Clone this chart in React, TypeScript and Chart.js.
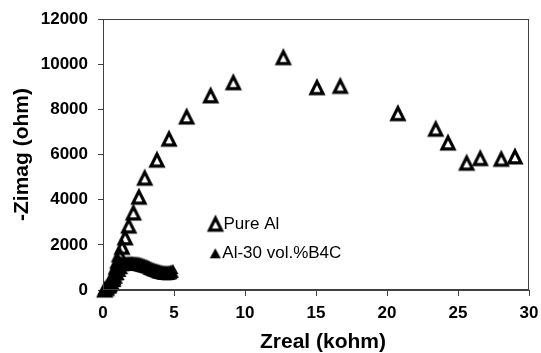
import React, { useEffect, useRef } from "react";
import { Chart, registerables } from "chart.js";

Chart.register(...registerables);

// ---- Data ----
const seriesNames = ["Pure Al", "Al-30 vol.%B4C"];

// Pure Al: Zreal (kohm), -Zimag (ohm)
const pureAlX = [0.12, 0.25, 0.4, 0.55, 0.7, 0.82, 0.93, 1.04, 1.16, 1.34, 1.56, 1.81, 2.14, 2.53, 2.94, 3.8, 4.65, 5.89, 7.58, 9.18, 12.7, 15.07, 16.71, 20.77, 23.43, 24.3, 25.61, 26.57, 28.05, 29.01];
const pureAlY = [40, 110, 220, 380, 580, 800, 1050, 1310, 1600, 1930, 2350, 2870, 3450, 4150, 4990, 5790, 6720, 7700, 8640, 9220, 10330, 9000, 9060, 7850, 7160, 6550, 5655, 5860, 5830, 5935];

// Al-30 vol.%B4C: Zreal (kohm), -Zimag (ohm)
const alB4cX = [0.0, 0.06, 0.12, 0.2, 0.27, 0.34, 0.41, 0.48, 0.55, 0.62, 0.69, 0.76, 0.83, 0.9, 0.96, 1.02, 1.08, 1.14,
  1.2, 1.26, 1.32, 1.38, 1.44, 1.5, 1.56, 1.62, 1.68, 1.74, 1.8, 1.86, 1.92, 1.98, 2.04, 2.1, 2.16, 2.22, 2.28, 2.34, 2.4, 2.46,
  2.52, 2.58, 2.64, 2.7, 2.76, 2.82, 2.88, 2.94, 3.0, 3.06, 3.12, 3.18, 3.24, 3.3, 3.36, 3.42, 3.48, 3.54, 3.6, 3.66, 3.72, 3.78,
  3.84, 3.9, 3.96, 4.02, 4.08, 4.14, 4.2, 4.26, 4.32, 4.38, 4.44, 4.5, 4.56, 4.62, 4.68, 4.74, 4.8, 4.86, 4.92, 4.96,
  0.3, 0.42, 0.53, 0.65, 0.78, 0.9, 1.02, 1.14, 1.26, 1.38];
const alB4cY = [0, 20, 50, 100, 160, 230, 310, 400, 490, 590, 690, 790, 890, 980, 1060, 1130, 1190, 1230,
  1290, 1070, 1280, 1060, 1270, 1050, 1270, 1060, 1280, 1070, 1290, 1075, 1295, 1075, 1290, 1070, 1285, 1065, 1280, 1060, 1270, 1050,
  1260, 1030, 1240, 1010, 1220, 990, 1190, 970, 1165, 945, 1140, 890, 1100, 860, 1060, 830, 1030, 800, 1000, 770, 975, 735,
  955, 715, 935, 700, 905, 680, 895, 665, 885, 660, 880, 655, 880, 660, 890, 670, 910, 700, 930, 760,
  0, 30, 70, 130, 220, 350, 500, 660, 800, 920];

const xTickValues = [0, 5, 10, 15, 20, 25, 30];
const yTickValues = [0, 2000, 4000, 6000, 8000, 10000, 12000];
const xTitle = "Zreal (kohm)";
const yTitle = "-Zimag (ohm)";

const FONT = '"Liberation Sans", Arial, Helvetica, sans-serif';

function makeHollowTriangle(): HTMLCanvasElement {
  const c = document.createElement("canvas");
  c.width = 22;
  c.height = 22;
  const g = c.getContext("2d")!;
  g.strokeStyle = "#000";
  g.lineWidth = 3.2;
  g.lineJoin = "miter";
  g.beginPath();
  g.moveTo(11, 5.9);
  g.lineTo(17, 17.9);
  g.lineTo(5, 17.9);
  g.closePath();
  g.stroke();
  return c;
}

function makeFilledTriangle(): HTMLCanvasElement {
  const c = document.createElement("canvas");
  c.width = 12;
  c.height = 12;
  const g = c.getContext("2d")!;
  g.fillStyle = "#000";
  g.beginPath();
  g.moveTo(6, 1);
  g.lineTo(11.5, 11);
  g.lineTo(0.5, 11);
  g.closePath();
  g.fill();
  return c;
}

export default function App() {
  const ref = useRef<HTMLCanvasElement | null>(null);

  useEffect(() => {
    if (!ref.current) return;
    const hollow = makeHollowTriangle();
    const filled = makeFilledTriangle();

    const framePlugin = {
      id: "frameAndLegend",
      afterDraw(chart: any) {
        const { ctx, chartArea: a } = chart;
        ctx.save();
        ctx.strokeStyle = "#404040";
        ctx.lineWidth = 1;
        ctx.strokeRect(
          Math.round(a.left) + 0.5,
          Math.round(a.top) + 0.5,
          Math.round(a.right - a.left) - 1,
          Math.round(a.bottom - a.top) - 1
        );
        // x axis title
        ctx.fillStyle = "#000";
        ctx.font = `bold 21px ${FONT}`;
        ctx.textAlign = "center";
        ctx.textBaseline = "middle";
        ctx.fillText(xTitle, 323, 342);
        // in-plot legend
        const items = [
          { img: hollow, mx: 215.5, my: 223.3, tx: 223.5, ty: 224, text: seriesNames[0] },
          { img: filled, mx: 215.3, my: 253.3, tx: 222.3, ty: 253.5, text: seriesNames[1] },
        ];
        ctx.font = `17px ${FONT}`;
        ctx.textAlign = "left";
        for (const it of items) {
          ctx.drawImage(it.img, it.mx - it.img.width / 2, it.my - it.img.height / 2);
          ctx.fillText(it.text, it.tx, it.ty);
        }
        ctx.restore();
      },
    };

    const chart = new Chart(ref.current, {
      type: "scatter",
      data: {
        datasets: [
          {
            label: seriesNames[0],
            data: pureAlX.map((x, i) => ({ x, y: pureAlY[i] })),
            pointStyle: hollow as any,
            pointRadius: 8,
            showLine: false,
            clip: false as any,
          },
          {
            label: seriesNames[1],
            data: alB4cX.map((x, i) => ({ x, y: alB4cY[i] })),
            pointStyle: filled as any,
            pointRadius: 5,
            showLine: false,
            clip: false as any,
          },
        ],
      },
      plugins: [framePlugin],
      options: {
        responsive: false,
        animation: false,
        devicePixelRatio: 1,
        events: [],
        layout: { padding: { top: 19, right: 12, left: 0, bottom: 0 } },
        plugins: { legend: { display: false }, tooltip: { enabled: false } },
        scales: {
          x: {
            type: "linear",
            min: 0,
            max: 30,
            afterBuildTicks: (s: any) => {
              s.ticks = xTickValues.map((v) => ({ value: v }));
            },
            afterFit: (s: any) => {
              s.height = 63;
              s.paddingLeft = 0;
              s.paddingRight = 0;
            },
            ticks: {
              color: "#000",
              font: { family: FONT, size: 17, weight: "bold" },
              padding: 7,
              maxRotation: 0,
              callback: (v: any) => String(v),
            },
            grid: { drawOnChartArea: false, drawTicks: true, tickLength: 6, color: "#404040" },
            border: { display: true, color: "#404040", width: 1 },
            title: { display: false, text: xTitle },
          },
          y: {
            type: "linear",
            min: 0,
            max: 12000,
            afterBuildTicks: (s: any) => {
              s.ticks = yTickValues.map((v) => ({ value: v }));
            },
            afterFit: (s: any) => {
              s.width = 103;
              s.paddingTop = 0;
              s.paddingBottom = 0;
            },
            ticks: {
              color: "#000",
              font: { family: FONT, size: 17, weight: "bold" },
              padding: 10,
              callback: (v: any) => String(v),
            },
            grid: { drawOnChartArea: false, drawTicks: true, tickLength: 5, color: "#404040" },
            border: { display: true, color: "#404040", width: 1 },
            title: {
              display: true,
              text: yTitle,
              color: "#000",
              font: { family: FONT, size: 21, weight: "bold" },
              padding: { top: 10, bottom: 0 },
            },
          },
        },
      },
    } as any);

    return () => chart.destroy();
  }, []);

  return (
    <div style={{ position: "absolute", left: 0, top: 0, width: 541, height: 353 }}>
      <canvas ref={ref} width={541} height={353} style={{ width: 541, height: 353, display: "block" }} />
    </div>
  );
}
